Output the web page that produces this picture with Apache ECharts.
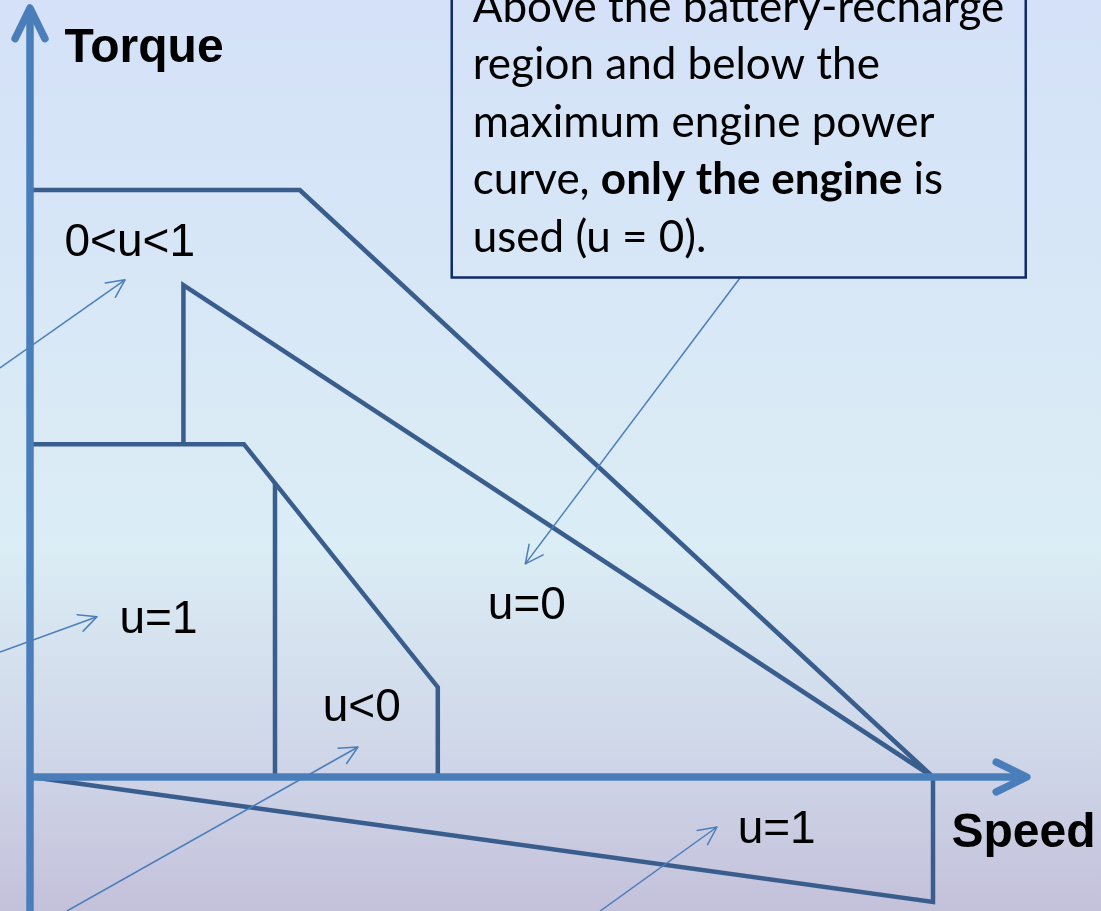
<!DOCTYPE html>
<html>
<head>
<meta charset="utf-8">
<title>Torque / speed operating regions</title>
<script src="https://cdn.jsdelivr.net/npm/echarts@6/dist/echarts.min.js"></script>
<style>
  html, body { margin: 0; padding: 0; }
  #chart { width: 1101px; height: 911px; }
</style>
</head>
<body>
<div id="chart"></div>
<script>
// speed in % of the max-power speed, torque in % of max engine torque
const enginePowerCurve = [[0, 100], [29.8, 100], [100, 0]];
const rechargeCurve = [[16.9, 56.9], [16.9, 83.8], [100, 0]];
const motorTorqueCurve = [[0, 56.7], [23.6, 56.7], [45.1, 15.3], [45.1, 0]];
const motorSplitLine = [[27.05, 50.2], [27.05, 0]];
const regenCurve = [[0, 0], [100, -21.3], [100, 0]];

// axes drawn as arrows: [fromSpeed, fromTorque, toSpeed, toTorque]
const axisArrows = [
  [-0.11, -22.83, -0.11, 131.0],
  [-0.44, 0, 110.4, 0]
];

// thin pointer arrows to the region labels
const pointerArrows = [
  [-3.44, 69.7, 10.42, 84.7],
  [-3.44, 21.3, 7.32, 27.3],
  [3.99, -22.83, 36.25, 5.11],
  [63.1, -22.83, 76.05, -8.52],
  [78.6, 85.0, 54.8, 36.3]
];

const labelNames = ['Torque', '0<u<1', 'u=1', 'u<0', 'u=0', 'u=1', 'Speed'];
const labelPos = [[3.77, 124.0], [3.77, 90.8], [9.87, 26.6], [32.4, 11.6], [50.7, 29.0], [78.4, -9.2], [102.1, -9.7]];
const boldLabels = ['Torque', 'Speed'];

const noteText = 'Above the battery-recharge\nregion and below the\nmaximum engine power\ncurve, {b|only the engine} is\nused (u = 0).';
const notePos = [46.7, 85.0];

// layout: where speed 0 / torque 0 sit on the canvas and pixel scale
const W = 1101, H = 911;
const X0 = 31, Y0 = 777;
const PX_SPEED = 9.02, PX_TORQUE = 5.87;

const CURVE_COLOR = '#395d8d';
const AXIS_COLOR = '#4a7ebb';

const chart = echarts.init(document.getElementById('chart'));

const curve = data => ({
  type: 'line',
  data,
  symbol: 'none',
  silent: true,
  z: 2,
  lineStyle: { color: CURVE_COLOR, width: 4.5, join: 'miter', cap: 'butt' }
});

const arrows = (data, width, headLen, z) => ({
  type: 'custom',
  data,
  silent: true,
  z,
  encode: { x: [0, 2], y: [1, 3] },
  renderItem: (params, api) => {
    const p1 = api.coord([api.value(0), api.value(1)]);
    const p2 = api.coord([api.value(2), api.value(3)]);
    const ang = Math.atan2(p1[1] - p2[1], p1[0] - p2[0]);
    const spread = 26 * Math.PI / 180;
    const h1 = [p2[0] + headLen * Math.cos(ang + spread), p2[1] + headLen * Math.sin(ang + spread)];
    const h2 = [p2[0] + headLen * Math.cos(ang - spread), p2[1] + headLen * Math.sin(ang - spread)];
    const style = { stroke: AXIS_COLOR, lineWidth: width, fill: 'none', lineCap: 'round', lineJoin: 'round' };
    return {
      type: 'group',
      children: [
        { type: 'polyline', shape: { points: [p1, p2] }, style: Object.assign({}, style, { lineCap: 'butt' }) },
        { type: 'polyline', shape: { points: [h1, p2, h2] }, style }
      ]
    };
  }
});

chart.setOption({
  animation: false,
  backgroundColor: {
    type: 'linear', x: 0, y: 0, x2: 0, y2: 1,
    colorStops: [
      { offset: 0, color: '#d4e1f8' },
      { offset: 0.6, color: '#dbedf5' },
      { offset: 0.85, color: '#ced4e7' },
      { offset: 1, color: '#c4c1db' }
    ]
  },
  grid: { left: 0, right: 0, top: 0, bottom: 0 },
  xAxis: {
    type: 'value',
    min: -X0 / PX_SPEED,
    max: (W - X0) / PX_SPEED,
    show: false
  },
  yAxis: {
    type: 'value',
    min: -(H - Y0) / PX_TORQUE,
    max: Y0 / PX_TORQUE,
    show: false
  },
  series: [
    curve(enginePowerCurve),
    curve(rechargeCurve),
    curve(motorTorqueCurve),
    curve(motorSplitLine),
    curve(regenCurve),
    arrows(axisArrows, 7.5, 34, 3),
    arrows(pointerArrows, 1.5, 20, 4),
    {
      type: 'scatter',
      silent: true,
      symbolSize: 1,
      itemStyle: { color: 'rgba(0,0,0,0)' },
      z: 5,
      data: labelPos.map((p, i) => {
        const bold = boldLabels.includes(labelNames[i]);
        return {
          value: p,
          name: labelNames[i],
          label: { fontWeight: bold ? 'bold' : 'normal', fontSize: bold ? 48 : 46 }
        };
      }),
      label: {
        show: true,
        opacity: 1,
        position: [0, 0],
        align: 'left',
        verticalAlign: 'middle',
        formatter: '{b}',
        fontFamily: 'Liberation Sans, Arial, sans-serif',
        fontSize: 46,
        color: '#000000'
      }
    },
    {
      type: 'scatter',
      silent: true,
      symbolSize: 1,
      itemStyle: { color: 'rgba(0,0,0,0)' },
      z: 5,
      data: [notePos],
      label: {
        show: true,
        opacity: 1,
        position: [0, 0],
        align: 'left',
        verticalAlign: 'bottom',
        formatter: noteText,
        fontFamily: 'Lato, sans-serif',
        fontSize: 44,
        lineHeight: 57.6,
        color: '#000000',
        padding: [10, 10, 11, 21],
        width: 543,
        borderColor: '#0f2a6a',
        borderWidth: 2.5,
        rich: {
          b: { fontFamily: 'Lato, sans-serif', fontSize: 44, lineHeight: 57.6, fontWeight: 'bold', color: '#000000' }
        }
      }
    }
  ]
});
</script>
</body>
</html>
